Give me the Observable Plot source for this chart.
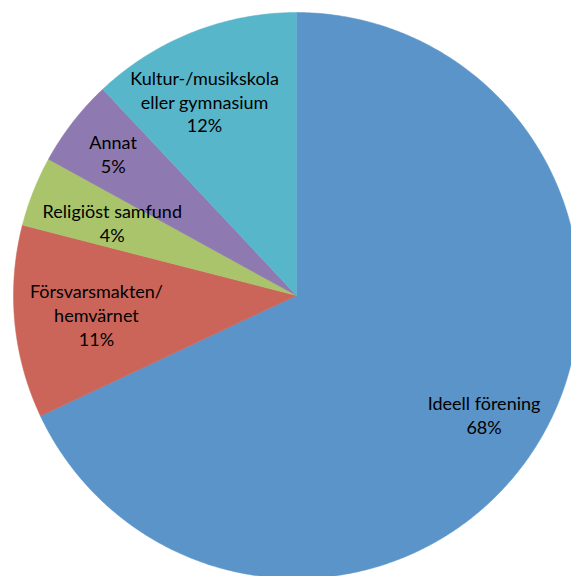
<!DOCTYPE html>
<html>
<head>
<meta charset="utf-8">
<script src="https://cdn.jsdelivr.net/npm/d3@7"></script>
<script src="https://cdn.jsdelivr.net/npm/@observablehq/plot@0.6"></script>
<style>
  html, body { margin: 0; padding: 0; background: #fff; overflow: hidden; }
  #chart svg { overflow: hidden; display: block; }
</style>
</head>
<body>
<div id="chart"></div>
<script>
// Data (clockwise from 12 o'clock)
const categories = ["Ideell förening", "Försvarsmakten/\nhemvärnet", "Religiöst samfund", "Annat", "Kultur-/musikskola\neller gymnasium"];
const values = [68, 11, 4, 5, 12];
const colors = ["#5B94C8", "#CB655A", "#A9C46B", "#8E79B1", "#58B6CB"];

const W = 571, H = 576;
const cx = 296, cy = 295, R = 283;

const pie = d3.pie().sort(null).value(d => d.value)(categories.map((c, i) => ({category: c, value: values[i]})));

// Polygon vertices for each slice, in unit-circle coordinates (y up)
const slicePts = [];
for (const s of pie) {
  const cat = s.data.category;
  slicePts.push({category: cat, x: 0, y: 0});
  const n = Math.max(2, Math.ceil((s.endAngle - s.startAngle) / (Math.PI / 360)));
  for (let k = 0; k <= n; k++) {
    const a = s.startAngle + (s.endAngle - s.startAngle) * k / n;
    slicePts.push({category: cat, x: Math.sin(a), y: Math.cos(a)});
  }
  slicePts.push({category: cat, x: 0, y: 0});
}

// label radial placement (fraction of radius), Excel "best fit"-like
const labelR = [0.785, 0.71, 0.70, 0.82, 0.76];
const labelDA = [0, 0, 0, 0, -0.065];
const labels = pie.map((s, i) => {
  const a = (s.startAngle + s.endAngle) / 2 + labelDA[i];
  const f = labelR[i];
  return {text: `${s.data.category}\n${s.data.value}%`, x: f * Math.sin(a), y: f * Math.cos(a)};
});

const chart = Plot.plot({
  width: W,
  height: H,
  margin: 0,
  x: {domain: [-1, 1], range: [cx - R, cx + R], axis: null},
  y: {domain: [-1, 1], range: [cy + R, cy - R], axis: null},
  color: {domain: categories, range: colors},
  style: {fontFamily: "Lato, 'Noto Sans', sans-serif", background: "#fff"},
  marks: [
    Plot.line(slicePts, {x: "x", y: "y", z: "category", fill: "category", stroke: "category", strokeWidth: 0.5, curve: "linear"}),
    Plot.text(labels, {x: "x", y: "y", text: "text", fontSize: 18, lineHeight: 1.31, fill: "#000", textAnchor: "middle"})
  ]
});
document.getElementById("chart").appendChild(chart);
</script>
</body>
</html>
